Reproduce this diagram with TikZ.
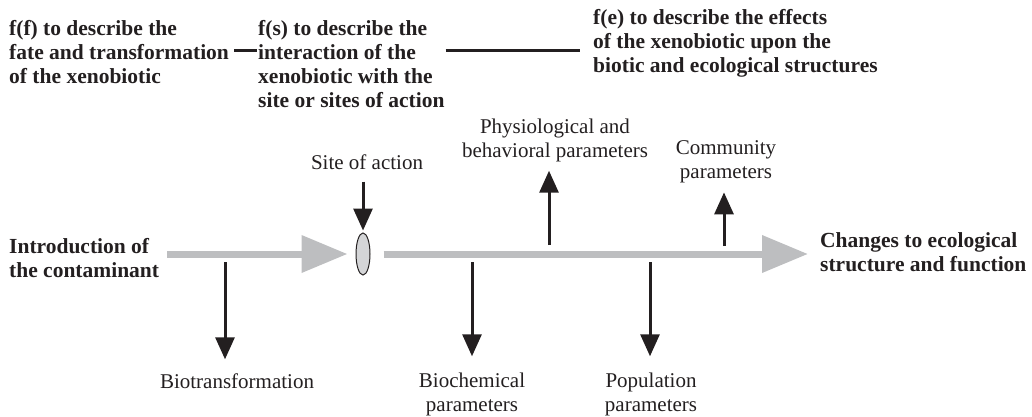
\documentclass[tikz,border=0pt]{standalone}
\usepackage{fontspec}
\setmainfont{Liberation Serif}
\usetikzlibrary{arrows.meta,shapes.geometric}
\definecolor{ink}{RGB}{35,31,32}
\definecolor{flowgray}{RGB}{189,190,192}
\definecolor{sitegray}{RGB}{212,213,215}
\begin{document}
\begin{tikzpicture}[x=1pt,y=-1pt,
  head/.style={font=\bfseries\fontsize{21.5}{24}\selectfont, align=left, inner sep=0pt, text=ink},
  lbl/.style={font=\fontsize{21}{24}\selectfont, align=center, inner sep=0pt, text=ink},
  flow/.style={draw=flowgray, line width=7pt, -{Triangle[width=36pt,length=46pt]}},
  effect/.style={draw=ink, line width=3pt, -{Triangle[width=19pt,length=22pt]}},
  link/.style={draw=ink, line width=3pt},
  site/.style={ellipse, draw=ink, fill=sitegray, line width=1pt, minimum width=14pt, minimum height=42pt, inner sep=0pt}]
\useasboundingbox (0,0) rectangle (1032,417);

% the three functions along the top
\node[head, anchor=west] (ff) at (9,52) {f(f) to describe the\\fate and transformation\\of the xenobiotic};
\node[head, anchor=west] (fs) at (258,64) {f(s) to describe the\\interaction of the\\xenobiotic with the\\site or sites of action};
\node[head, anchor=west] (fe) at (593,43) {f(e) to describe the effects\\of the xenobiotic upon the\\biotic and ecological structures};
\coordinate (dashlevel) at (0,51);
\draw[link] ([xshift=5pt]ff.east |- dashlevel) -- ([xshift=-1pt]fs.west |- dashlevel);
\draw[link] ([xshift=1pt]fs.east |- dashlevel) -- ([xshift=-13pt]fe.west |- dashlevel);

% main flow from contaminant to ecological change
\node[head, anchor=west] (intro) at (9,258) {Introduction of\\the contaminant};
\node[head, anchor=west] (changes) at (820,252) {Changes to ecological\\structure and function};
\node[site] (site) at (363,254) {};
\draw[flow] ([xshift=8pt]intro.east |- site) -- ([xshift=-8pt]site.west);
\draw[flow] ([xshift=13pt]site.east) -- ([xshift=-12pt]changes.west |- site);

% site of action
\node[lbl] (sitelbl) at (367,162) {Site of action};
\draw[effect] (site.north |- sitelbl.south) ++(0,12) -- ([yshift=2pt]site.north);

% upward effects
\node[lbl] (phys) at (555,140) {Physiological and\\behavioral parameters};
\coordinate (p0) at (549,245);
\draw[effect] (p0) -- ([yshift=-9pt]p0 |- phys.south);
\node[lbl] (comm) at (726,162) {Community\\parameters};
\coordinate (c0) at (724,246);
\draw[effect] (c0) -- ([yshift=-9pt]c0 |- comm.south);

% downward effects
\node[lbl] (bio) at (237,381) {Biotransformation};
\coordinate (b0) at (225,262);
\draw[effect] (b0) -- ([yshift=14pt]b0 |- bio.north);
\node[lbl] (biochem) at (472,394) {Biochemical\\parameters};
\coordinate (bc0) at (472,262);
\draw[effect] (bc0) -- ([yshift=16pt]bc0 |- biochem.north);
\node[lbl] (pop) at (651,394) {Population\\parameters};
\coordinate (pp0) at (650,262);
\draw[effect] (pp0) -- ([yshift=16pt]pp0 |- pop.north);
\end{tikzpicture}
\end{document}
